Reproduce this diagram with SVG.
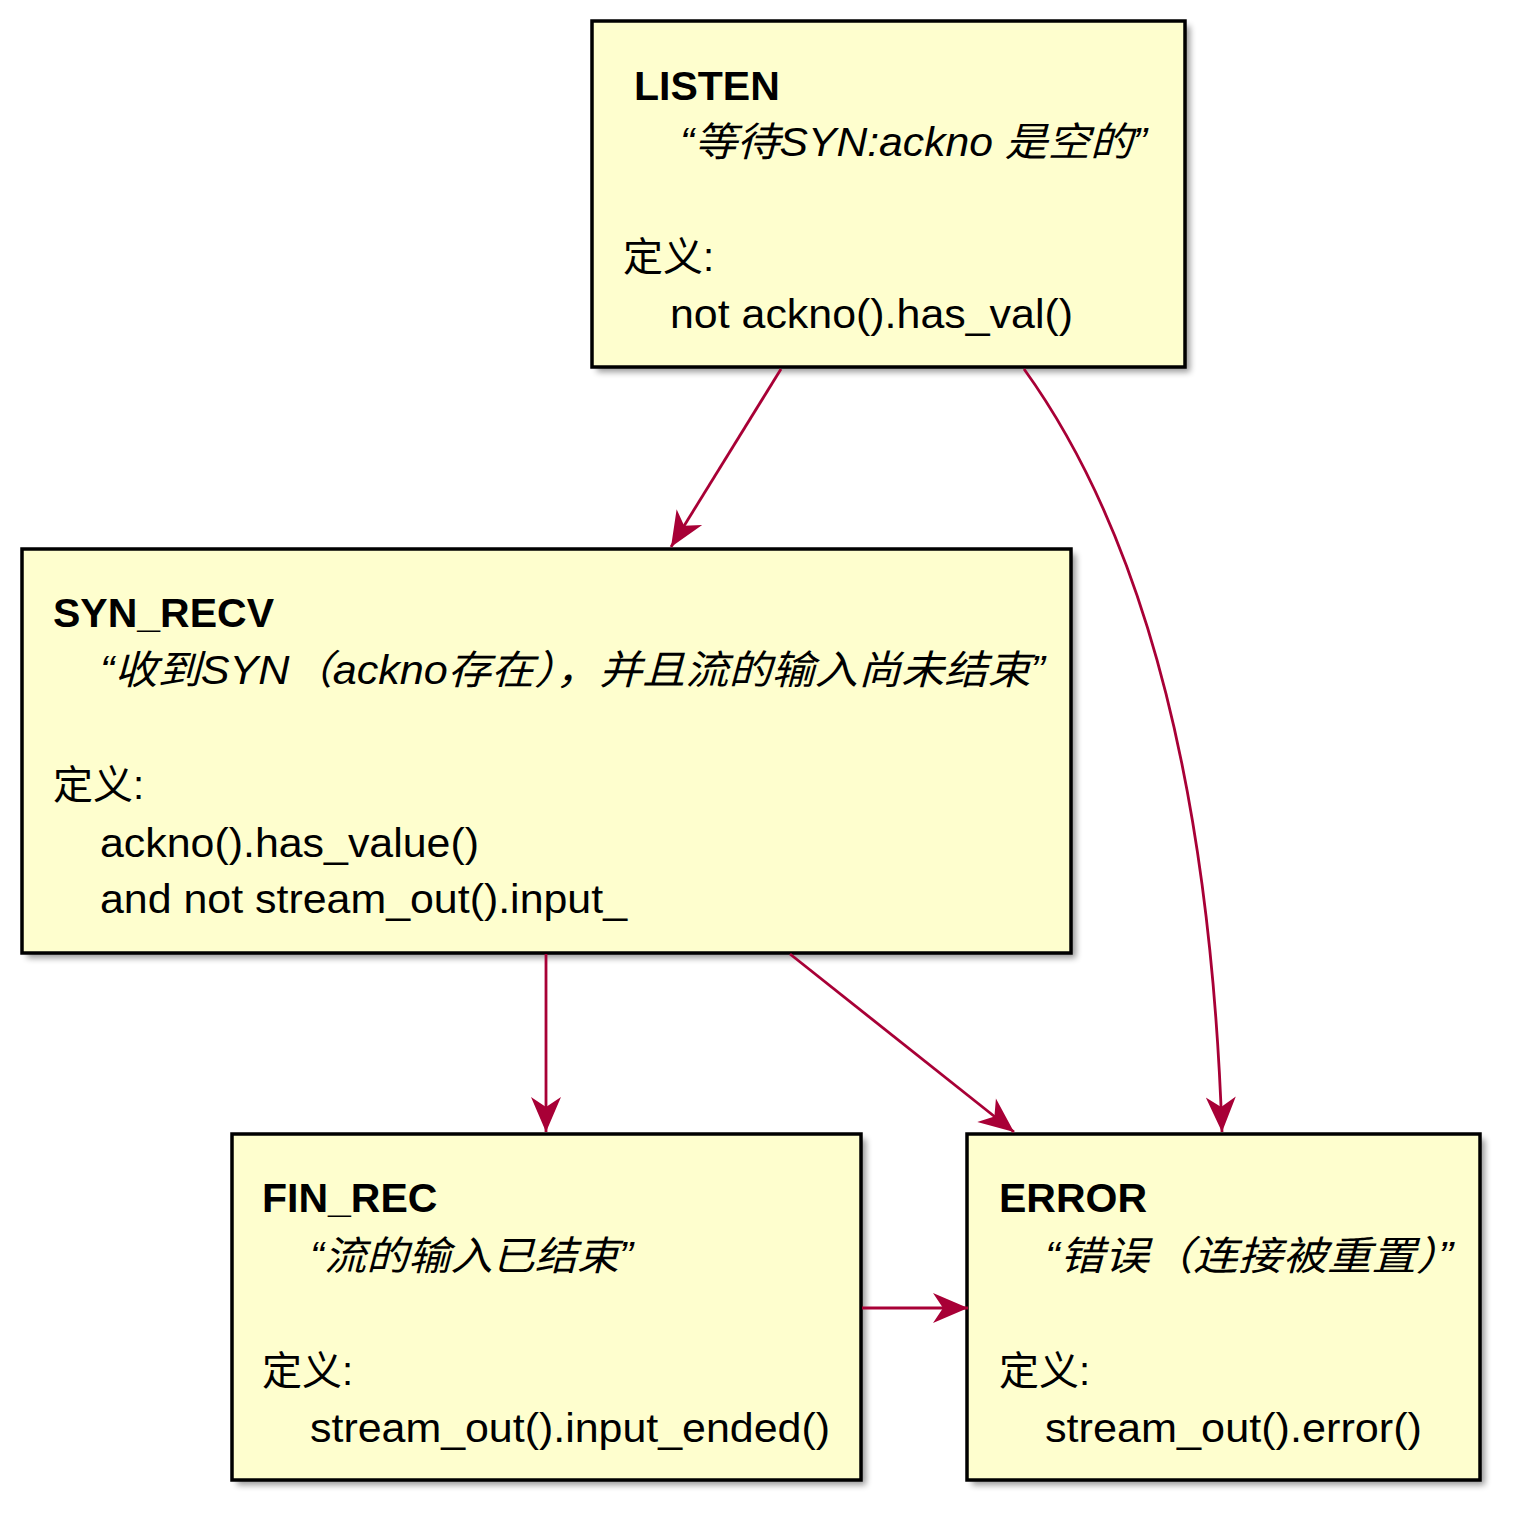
<svg xmlns="http://www.w3.org/2000/svg" width="1513" height="1513" viewBox="0 0 1513 1513">
<style>
.box{fill:#FEFECE;stroke:#000;stroke-width:3.5}
.sh{fill:#000;opacity:0.4;filter:url(#blur)}
.t{font-family:"Liberation Sans","Noto Sans CJK SC",sans-serif;font-size:40px;fill:#000}
.b{font-weight:bold;font-size:41px}
.i{font-style:italic}
.edge{fill:none;stroke:#A80036;stroke-width:2.8}
</style>
<defs>
<filter id="blur" x="-10%" y="-10%" width="120%" height="120%"><feGaussianBlur stdDeviation="3"/></filter>
<marker id="ah" markerUnits="userSpaceOnUse" markerWidth="40" markerHeight="40" viewBox="-36 -18 40 36" refX="0" refY="0" orient="auto">
<path d="M0,0 L-35,-15 L-25,0 L-35,15 Z" fill="#A80036"/>
</marker>
</defs>
<rect width="1513" height="1513" fill="#fff"/>

<g id="LISTEN">
<rect class="sh" x="597" y="26" width="593" height="346"/>
<rect class="box" x="592" y="21" width="593" height="346"/>
<text class="t b" x="634" y="100">LISTEN</text>
<text class="t i" x="680" y="156" textLength="467" lengthAdjust="spacingAndGlyphs">“等待SYN:ackno 是空的”</text>
<text class="t" x="623" y="271">定义:</text>
<text class="t" x="670" y="328" textLength="403" lengthAdjust="spacingAndGlyphs">not ackno().has_val()</text>
</g>

<g id="SYN_RECV">
<rect class="sh" x="27" y="554" width="1049" height="404"/>
<rect class="box" x="22" y="549" width="1049" height="404"/>
<text class="t b" x="53" y="627">SYN_RECV</text>
<text class="t i" x="100" y="684" textLength="945" lengthAdjust="spacingAndGlyphs">“收到SYN（ackno存在），并且流的输入尚未结束”</text>
<text class="t" x="53" y="799">定义:</text>
<text class="t" x="100" y="857" textLength="379" lengthAdjust="spacingAndGlyphs">ackno().has_value()</text>
<text class="t" x="100" y="913" textLength="527" lengthAdjust="spacingAndGlyphs">and not stream_out().input_</text>
</g>

<g id="FIN_REC">
<rect class="sh" x="237" y="1139" width="629" height="346"/>
<rect class="box" x="232" y="1134" width="629" height="346"/>
<text class="t b" x="262" y="1212">FIN_REC</text>
<text class="t i" x="310" y="1270" textLength="323" lengthAdjust="spacingAndGlyphs">“流的输入已结束”</text>
<text class="t" x="262" y="1385">定义:</text>
<text class="t" x="310" y="1442" textLength="520" lengthAdjust="spacingAndGlyphs">stream_out().input_ended()</text>
</g>

<g id="ERROR">
<rect class="sh" x="972" y="1139" width="513" height="346"/>
<rect class="box" x="967" y="1134" width="513" height="346"/>
<text class="t b" x="999" y="1212">ERROR</text>
<text class="t i" x="1045" y="1270" textLength="408" lengthAdjust="spacingAndGlyphs">“错误（连接被重置）”</text>
<text class="t" x="999" y="1385">定义:</text>
<text class="t" x="1045" y="1442" textLength="377" lengthAdjust="spacingAndGlyphs">stream_out().error()</text>
</g>

<g id="connectors">
<path class="edge" d="M781,369 L671,547" marker-end="url(#ah)"/>
<path class="edge" d="M1024,369 C1140,530 1210,780 1222,1132" marker-end="url(#ah)"/>
<path class="edge" d="M546,954 L546,1132" marker-end="url(#ah)"/>
<path class="edge" d="M790,954 L1014,1132" marker-end="url(#ah)"/>
<path class="edge" d="M862,1308 L968,1308" marker-end="url(#ah)"/>
</g>
</svg>
